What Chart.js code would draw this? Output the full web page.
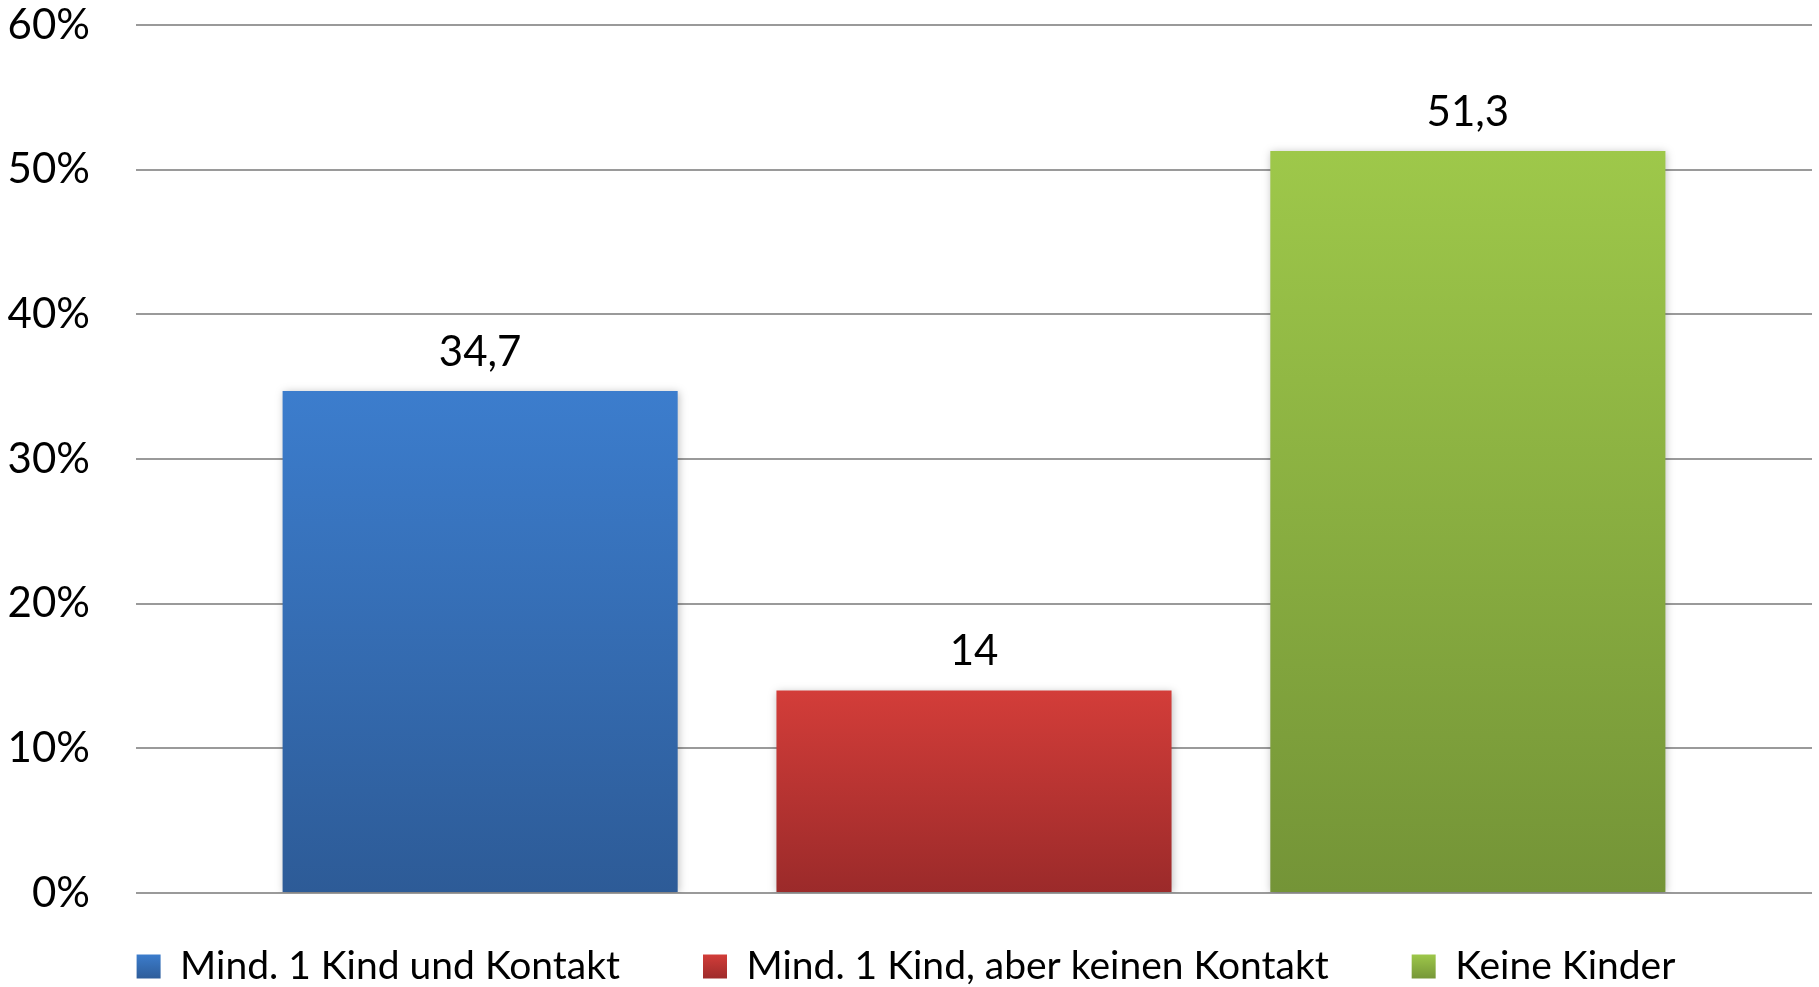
<!DOCTYPE html>
<html>
<head>
<meta charset="utf-8">
<script src="https://cdn.jsdelivr.net/npm/chart.js@4.4.1/dist/chart.umd.min.js"></script>
<style>
  html, body { margin: 0; padding: 0; background: #fff; }
  #wrap { width: 1819px; height: 987px; }
</style>
</head>
<body>
<div id="wrap"><canvas id="grafico"></canvas></div>
<script>
const categorias = [''];
const series = ['Mind. 1 Kind und Kontakt', 'Mind. 1 Kind, aber keinen Kontakt', 'Keine Kinder'];
const valores = [34.7, 14, 51.3];
const coloresArriba = ['#3C7DCD', '#D33D39', '#9EC84A'];
const coloresAbajo = ['#2D5B97', '#9B2A2A', '#749437'];

const fuente = 'Lato, "Open Sans", sans-serif';

function degradado(ctx, i) {
    const area = ctx.chart.chartArea;
    if (!area) return coloresArriba[i];
    const y0 = ctx.chart.scales.y.getPixelForValue(valores[i]);
    const y1 = ctx.chart.scales.y.getPixelForValue(0);
    const g = ctx.chart.ctx.createLinearGradient(0, y0, 0, y1);
    g.addColorStop(0, coloresArriba[i]);
    g.addColorStop(1, coloresAbajo[i]);
    return g;
}

function degradadoLeyenda(chart, i) {
    const g = chart.ctx.createLinearGradient(0, 954, 0, 980);
    g.addColorStop(0, coloresArriba[i]);
    g.addColorStop(1, coloresAbajo[i]);
    return g;
}

// la leyenda queda mas pegada al grafico que lo que permite el padding
const moverLeyenda = {
    id: 'moverLeyenda',
    afterLayout(chart) {
        const lg = chart.legend;
        const nuevoTop = 972 - lg.options.labels.padding - 25;
        const d = lg.top - nuevoTop;
        lg.top -= d;
        lg.bottom -= d;
    }
};

const etiquetas = {
    id: 'etiquetas',
    beforeDatasetDraw(chart) {
        const c = chart.ctx;
        c.save();
        c.shadowColor = 'rgba(0,0,0,0.25)';
        c.shadowBlur = 8;
        c.shadowOffsetX = 1;
        c.shadowOffsetY = 1;
    },
    afterDatasetDraw(chart) {
        chart.ctx.restore();
    },
    afterDatasetsDraw(chart) {
        const c = chart.ctx;
        c.save();
        c.font = '42px ' + fuente;
        c.fillStyle = '#000';
        c.textAlign = 'center';
        c.textBaseline = 'bottom';
        chart.data.datasets.forEach((ds, i) => {
            const bar = chart.getDatasetMeta(i).data[0];
            const txt = String(ds.data[0]).replace('.', ',');
            c.fillText(txt, bar.x, bar.y - 18);
        });
        c.restore();
    }
};

new Chart(document.getElementById('grafico').getContext('2d'), {
    type: 'bar',
    data: {
        labels: categorias,
        datasets: series.map((s, i) => ({
            label: s,
            data: [valores[i]],
            backgroundColor: ctx => degradado(ctx, i),
            borderWidth: 0,
            categoryPercentage: 0.884,
            barPercentage: 0.8
        }))
    },
    options: {
        responsive: true,
        maintainAspectRatio: false,
        animation: false,
        layout: { padding: { top: 0, right: 7, left: 0, bottom: -38 } },
        scales: {
            x: { display: false },
            y: {
                min: 0,
                max: 60,
                ticks: {
                    stepSize: 10,
                    padding: 0,
                    color: '#000',
                    font: { family: fuente, size: 42 },
                    callback: v => v + '%'
                },
                grid: { color: '#9A9A9A', lineWidth: 2, tickLength: 46, tickColor: 'rgba(0,0,0,0)' },
                border: { display: false },
                afterFit: scale => { scale.width = 136; }
            }
        },
        plugins: {
            tooltip: { enabled: false },
            legend: {
                position: 'bottom',
                labels: {
                    color: '#000',
                    font: { family: fuente, size: 39 },
                    boxWidth: 24,
                    boxHeight: 24,
                    padding: 83,
                    generateLabels: chart => series.map((s, i) => ({
                        text: s,
                        fillStyle: degradadoLeyenda(chart, i),
                        strokeStyle: 'transparent',
                        lineWidth: 0,
                        datasetIndex: i
                    }))
                }
            }
        }
    },
    plugins: [etiquetas, moverLeyenda]
});
</script>
</body>
</html>
